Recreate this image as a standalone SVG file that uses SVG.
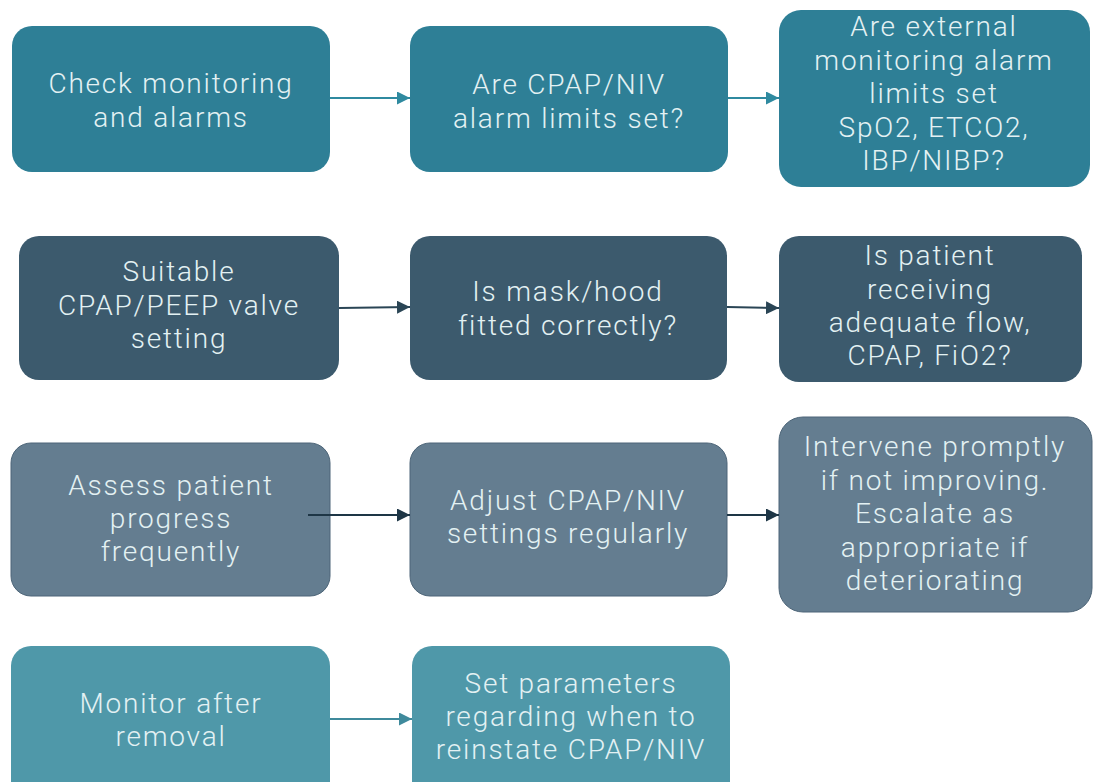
<svg xmlns="http://www.w3.org/2000/svg" width="1094" height="782" viewBox="0 0 1094 782">
<style>
.t{font-family:Roboto,"Liberation Sans",sans-serif;font-size:28px;font-weight:300;letter-spacing:1.8px;fill:#e3f1f3;text-anchor:middle}
.r1{fill:#2e7f96}
.r2{fill:#3c5a6d}
.r3{fill:#647d90;stroke:#4d6578;stroke-width:1}
.r4{fill:#4f98a9}
.c1{stroke:#2f8aa0;stroke-width:2;fill:none}
.c2{stroke:#2a4555;stroke-width:2;fill:none}
.c3{stroke:#1e3646;stroke-width:2;fill:none}
.c4{stroke:#3f8a9c;stroke-width:2;fill:none}
</style>
<defs>
<marker id="m1" viewBox="0 0 10 10" refX="10" refY="5" markerWidth="13" markerHeight="13" markerUnits="userSpaceOnUse" orient="auto"><path d="M0,0L10,5L0,10z" fill="#2f8aa0"/></marker>
<marker id="m2" viewBox="0 0 10 10" refX="10" refY="5" markerWidth="13" markerHeight="13" markerUnits="userSpaceOnUse" orient="auto"><path d="M0,0L10,5L0,10z" fill="#2a4555"/></marker>
<marker id="m3" viewBox="0 0 10 10" refX="10" refY="5" markerWidth="13" markerHeight="13" markerUnits="userSpaceOnUse" orient="auto"><path d="M0,0L10,5L0,10z" fill="#1e3646"/></marker>
<marker id="m4" viewBox="0 0 10 10" refX="10" refY="5" markerWidth="13" markerHeight="13" markerUnits="userSpaceOnUse" orient="auto"><path d="M0,0L10,5L0,10z" fill="#3f8a9c"/></marker>
</defs>
<rect width="1094" height="782" fill="#ffffff"/>
<g id="n1"><rect class="r1" x="12" y="26" width="318" height="146" rx="20"/><text class="t" x="171" y="93">Check monitoring<tspan x="171" dy="34">and alarms</tspan></text></g>
<g id="n2"><rect class="r1" x="410" y="26" width="318" height="146" rx="20"/><text class="t" x="569" y="94">Are CPAP/NIV<tspan x="569" dy="34">alarm limits set?</tspan></text></g>
<g id="n3"><rect class="r1" x="779" y="10" width="311" height="177" rx="22"/><text class="t" x="934" y="36">Are external<tspan x="934" dy="34">monitoring alarm</tspan><tspan x="934" dy="33">limits set</tspan><tspan x="934" dy="34">SpO2, ETCO2,</tspan><tspan x="934" dy="33">IBP/NIBP?</tspan></text></g>
<g id="n4"><rect class="r2" x="19" y="236" width="320" height="144" rx="20"/><text class="t" x="179" y="281">Suitable<tspan x="179" dy="34">CPAP/PEEP valve</tspan><tspan x="179" dy="33">setting</tspan></text></g>
<g id="n5"><rect class="r2" x="410" y="236" width="317" height="144" rx="20"/><text class="t" x="568" y="301">Is mask/hood<tspan x="568" dy="34">fitted correctly?</tspan></text></g>
<g id="n6"><rect class="r2" x="779" y="236" width="303" height="146" rx="20"/><text class="t" x="930" y="265">Is patient<tspan x="930" dy="34">receiving</tspan><tspan x="930" dy="33">adequate flow,</tspan><tspan x="930" dy="33">CPAP, FiO2?</tspan></text></g>
<g id="n7"><rect class="r3" x="11" y="443" width="319" height="153" rx="20"/><text class="t" x="171" y="495">Assess patient<tspan x="171" dy="33">progress</tspan><tspan x="171" dy="33">frequently</tspan></text></g>
<g id="n8"><rect class="r3" x="410" y="443" width="317" height="153" rx="20"/><text class="t" x="568" y="510">Adjust CPAP/NIV<tspan x="568" dy="33">settings regularly</tspan></text></g>
<g id="n9"><rect class="r3" x="779" y="417" width="313" height="195" rx="24"/><text class="t" x="935" y="456">Intervene promptly<tspan x="935" dy="34">if not improving.</tspan><tspan x="935" dy="33">Escalate as</tspan><tspan x="935" dy="34">appropriate if</tspan><tspan x="935" dy="33">deteriorating</tspan></text></g>
<g id="n10"><rect class="r4" x="11" y="646" width="319" height="160" rx="20"/><text class="t" x="171" y="713">Monitor after<tspan x="171" dy="33">removal</tspan></text></g>
<g id="n11"><rect class="r4" x="412" y="646" width="318" height="160" rx="20"/><text class="t" x="571" y="693">Set parameters<tspan x="571" dy="33">regarding when to</tspan><tspan x="571" dy="33">reinstate CPAP/NIV</tspan></text></g>
<g id="connectors">
<path class="c1" d="M330,98H410" marker-end="url(#m1)"/>
<path class="c1" d="M728,98H779" marker-end="url(#m1)"/>
<path class="c2" d="M339,308L410,307" marker-end="url(#m2)"/>
<path class="c2" d="M727,307L779,308" marker-end="url(#m2)"/>
<path class="c3" d="M308,515H410" marker-end="url(#m3)"/>
<path class="c3" d="M727,515H779" marker-end="url(#m3)"/>
<path class="c4" d="M330,719H412" marker-end="url(#m4)"/>
</g>
</svg>
